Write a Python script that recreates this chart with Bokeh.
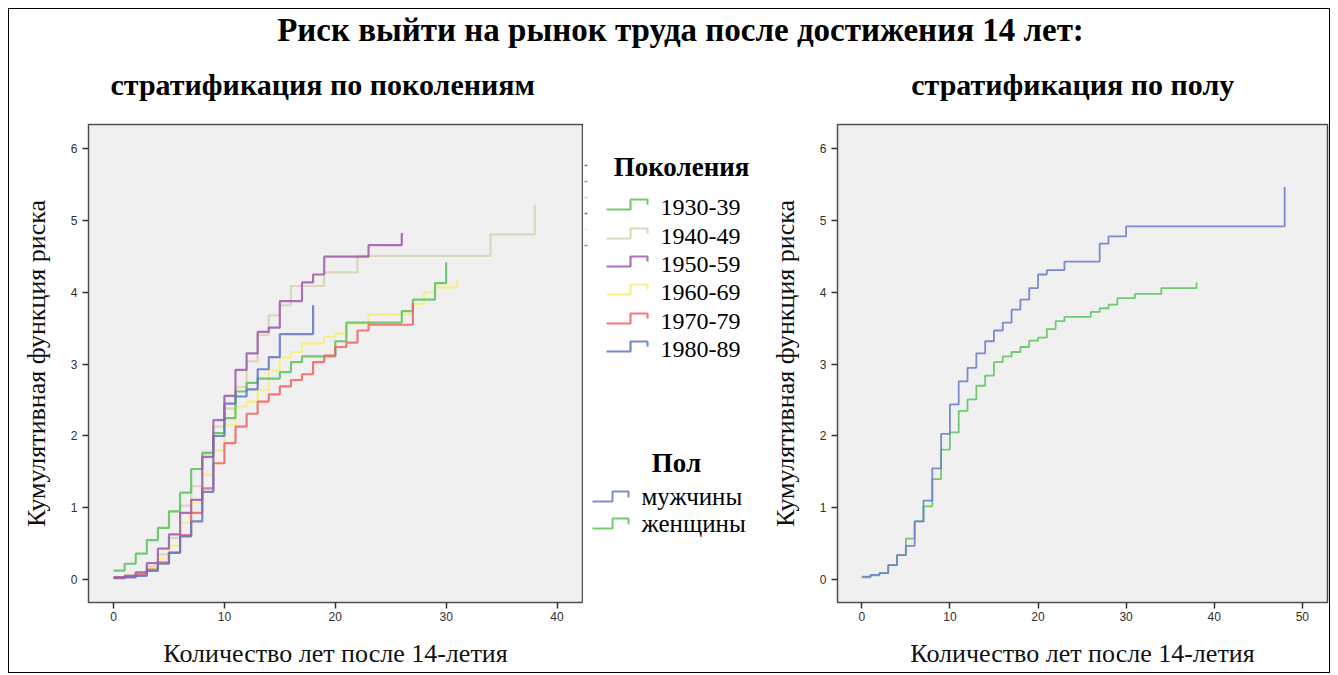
from bokeh.plotting import figure
from bokeh.models import Range1d, FixedTicker
from bokeh.layouts import column, row
from bokeh.embed import file_html
from bokeh.resources import INLINE
from bokeh.core.properties import value

# ---------------- data ----------------
gen_labels = ["1930-39", "1940-49", "1950-59", "1960-69", "1970-79", "1980-89"]
gen_colors = ["#5cc25c", "#d6d2b0", "#9c5aa8", "#f4ee78", "#f26262", "#5f74c8"]

t_1930 = [0, 1, 2, 3, 4, 5, 6, 7, 8, 9, 10, 11, 12, 13, 15, 16, 17, 20, 21, 26, 27, 29, 30]
y_1930 = [0.125, 0.22, 0.36, 0.55, 0.72, 0.95, 1.21, 1.54, 1.76, 2.04, 2.25, 2.62, 2.74, 2.80,
          2.89, 3.03, 3.11, 3.32, 3.58, 3.74, 3.90, 4.13, 4.42]

t_1940 = [0, 1, 2, 3, 4, 5, 6, 7, 8, 9, 10, 11, 12, 13, 14, 15, 16, 19, 22, 34, 38]
y_1940 = [0.03, 0.06, 0.10, 0.18, 0.35, 0.58, 1.03, 1.30, 1.78, 2.13, 2.38, 2.68, 3.04, 3.41,
          3.68, 3.82, 4.09, 4.28, 4.51, 4.81, 5.22]

t_1950 = [0, 1, 2, 3, 4, 5, 6, 7, 8, 9, 10, 11, 12, 13, 14, 15, 17, 18, 19, 23, 26]
y_1950 = [0.03, 0.05, 0.10, 0.23, 0.43, 0.63, 0.93, 1.11, 1.71, 2.22, 2.56, 2.92, 3.15, 3.45,
          3.51, 3.88, 4.14, 4.25, 4.50, 4.66, 4.83]

t_1960 = [0, 1, 2, 3, 4, 5, 6, 7, 8, 9, 10, 11, 12, 13, 14, 15, 16, 17, 19, 20, 21, 23, 27, 28, 29, 31]
y_1960 = [0.03, 0.05, 0.09, 0.16, 0.29, 0.47, 0.79, 1.07, 1.46, 1.80, 2.15, 2.41, 2.48, 2.64,
          2.91, 3.09, 3.17, 3.29, 3.38, 3.43, 3.57, 3.69, 3.84, 4.00, 4.07, 4.17]

t_1970 = [0, 1, 2, 3, 4, 5, 6, 7, 8, 9, 10, 11, 12, 13, 14, 15, 16, 17, 18, 19, 20, 21, 22, 23, 27]
y_1970 = [0.03, 0.04, 0.07, 0.14, 0.24, 0.38, 0.62, 0.93, 1.27, 1.62, 1.90, 2.13, 2.31, 2.48,
          2.58, 2.69, 2.78, 2.86, 3.03, 3.12, 3.24, 3.30, 3.47, 3.55, 3.85]

t_1980 = [0, 1, 2, 3, 4, 5, 6, 7, 8, 9, 10, 11, 12, 13, 14, 15, 18]
y_1980 = [0.02, 0.03, 0.05, 0.12, 0.22, 0.37, 0.60, 0.81, 1.22, 2.00, 2.45, 2.55, 2.65, 2.93,
          3.10, 3.42, 3.82]

sex_labels = ["мужчины", "женщины"]
sex_colors = ["#6f80cc", "#62c662"]

t_men = [0, 1, 2, 3, 4, 5, 6, 7, 8, 9, 10, 11, 12, 13, 14, 15, 16, 17, 18, 19, 20, 21, 23, 27, 28, 30, 48]
y_men = [0.04, 0.065, 0.09, 0.20, 0.34, 0.47, 0.81, 1.10, 1.55, 2.03, 2.44, 2.76, 2.95, 3.15,
         3.32, 3.47, 3.58, 3.76, 3.90, 4.06, 4.25, 4.31, 4.43, 4.68, 4.78, 4.92, 5.47]

t_women = [0, 1, 2, 3, 4, 5, 6, 7, 8, 9, 10, 11, 12, 13, 14, 15, 16, 17, 18, 19, 20, 21, 22, 23,
           26, 27, 28, 29, 31, 34, 38]
y_women = [0.03, 0.06, 0.09, 0.20, 0.34, 0.57, 0.81, 1.02, 1.40, 1.81, 2.05, 2.35, 2.51, 2.70,
           2.84, 3.03, 3.11, 3.17, 3.24, 3.33, 3.37, 3.49, 3.60, 3.66, 3.73, 3.78, 3.83, 3.92,
           3.98, 4.06, 4.14]

left_xticks = [0, 10, 20, 30, 40]
right_xticks = [0, 10, 20, 30, 40, 50]
yticks = [0, 1, 2, 3, 4, 5, 6]

main_title = "Риск выйти на рынок труда после достижения 14 лет:"
sub_left = "стратификация  по поколениям"
sub_right = "стратификация  по полу"
y_label = "Кумулятивная функция риска"
x_label = "Количество лет после 14-летия"
leg_gen_title = "Поколения"
leg_sex_title = "Пол"

SERIF = "Liberation Serif"
SANS = "Liberation Sans"

TOP_B = 2
BOT_B = 70
FIG_H = 2 + 478 + BOT_B


def blank(width, height, x0, x1, y0, y1, **kw):
    p = figure(width=width, height=height, x_range=Range1d(x0, x1), y_range=Range1d(y0, y1),
               x_axis_location=None, y_axis_location=None, toolbar_location=None,
               output_backend="svg", **kw)
    p.grid.visible = False
    p.outline_line_color = None
    p.background_fill_color = "white"
    p.border_fill_color = "white"
    return p


def km_plot(width, min_left, min_right, xr, xticks):
    p = figure(width=width, height=FIG_H, x_range=Range1d(*xr), y_range=Range1d(-0.32, 6.34),
               toolbar_location=None, output_backend="svg",
               min_border_left=min_left, min_border_right=min_right,
               min_border_top=TOP_B, min_border_bottom=BOT_B)
    p.background_fill_color = "#f0f0f0"
    p.border_fill_color = "white"
    p.outline_line_color = "#505050"
    p.outline_line_width = 1.5
    p.grid.visible = False
    for ax in (p.xaxis[0], p.yaxis[0]):
        ax.axis_line_color = None
        ax.major_tick_line_color = "#303030"
        ax.major_tick_line_width = 1.5
        ax.major_tick_out = 6
        ax.major_tick_in = 0
        ax.minor_tick_line_color = None
        ax.major_label_text_font = SANS
        ax.major_label_text_font_size = "12px"
        ax.major_label_text_color = "#303030"
        ax.axis_label_text_font = SERIF
        ax.axis_label_text_font_style = "normal"
        ax.axis_label_text_font_size = "26px"
        ax.axis_label_text_color = "#111111"
    p.xaxis.ticker = FixedTicker(ticks=xticks)
    p.yaxis.ticker = FixedTicker(ticks=yticks)
    p.xaxis.major_label_standoff = 3
    p.yaxis.major_label_standoff = 5
    p.xaxis.axis_label = x_label
    p.yaxis.axis_label = y_label
    p.xaxis.axis_label_standoff = 15
    p.yaxis.axis_label_standoff = 17
    return p


# ---------- header (page pixel coordinates) ----------
head = blank(1320, 113, 9, 1329, 122, 9, min_border=0)
head.text(x=[680], y=[29], text=[main_title], text_font=value(SERIF), text_font_style="bold",
          text_font_size="33px", text_align="center", text_baseline="middle", text_color="#000000")
head.text(x=[326, 1076], y=[84, 84], text=[sub_left, sub_right], text_font=value(SERIF),
          text_font_style="bold", text_font_size="30px", text_align="center",
          text_baseline="middle", text_color="#000000")

# ---------- left plot ----------
pl = km_plot(574, 79, 1, (-2.26, 42.3), left_xticks)
gen_t = [t_1930, t_1940, t_1950, t_1960, t_1970, t_1980]
gen_y = [y_1930, y_1940, y_1950, y_1960, y_1970, y_1980]
order = [1, 3, 0, 4, 5, 2]
for i in order:
    pl.step(gen_t[i], gen_y[i], mode="after", line_color=gen_colors[i], line_width=2.2,
            line_alpha=0.85)

# ---------- legend panel (page pixel coordinates within the frame band 124..602) ----------
lg = blank(184, FIG_H, 583, 767, 602, 124, min_border_left=0, min_border_right=0,
           min_border_top=TOP_B, min_border_bottom=BOT_B)
frag_colors = [gen_colors[5], gen_colors[0], gen_colors[1], gen_colors[2], gen_colors[3], gen_colors[4]]
for k, c in enumerate(frag_colors):
    yy = 165 + 16 * k
    lg.line([584, 587], [yy, yy], line_color=c, line_width=1.5)

lg.text(x=[681], y=[166], text=[leg_gen_title], text_font=value(SERIF), text_font_style="bold",
        text_font_size="27px", text_align="center", text_baseline="middle", text_color="#000")
gen_yc = [207, 236, 264, 292, 321, 349]
for i, yc in enumerate(gen_yc):
    lg.line([606, 630, 630, 647, 647], [yc + 2, yc + 2, yc - 8, yc - 8, yc - 3],
            line_color=gen_colors[i], line_width=2.2, line_alpha=0.85)
lg.text(x=[660] * 6, y=gen_yc, text=gen_labels, text_font=value(SERIF), text_font_size="24px",
        text_align="left", text_baseline="middle", text_color="#000")

lg.text(x=[676], y=[462], text=[leg_sex_title], text_font=value(SERIF), text_font_style="bold",
        text_font_size="27px", text_align="center", text_baseline="middle", text_color="#000")
sex_yc = [496, 523]
for i, yc in enumerate(sex_yc):
    lg.line([592, 612, 612, 628, 628], [yc + 5, yc + 5, yc - 5, yc - 5, yc + 1],
            line_color=sex_colors[i], line_width=2, line_alpha=0.9)
lg.text(x=[641] * 2, y=sex_yc, text=sex_labels, text_font=value(SERIF), text_font_size="25px",
        text_align="left", text_baseline="middle", text_color="#000")

# ---------- right plot ----------
pr = km_plot(562, 70, 2, (-2.76, 52.86), right_xticks)
pr.step(t_women, y_women, mode="after", line_color=sex_colors[1], line_width=1.8, line_alpha=0.9)
pr.step(t_men, y_men, mode="after", line_color=sex_colors[0], line_width=1.8, line_alpha=0.9)

layout = column(head, row(pl, lg, pr),
                styles={"border": "1px solid #000000", "margin-left": "8px", "margin-top": "8px"})

open("out.html", "w").write(file_html(layout, INLINE))
